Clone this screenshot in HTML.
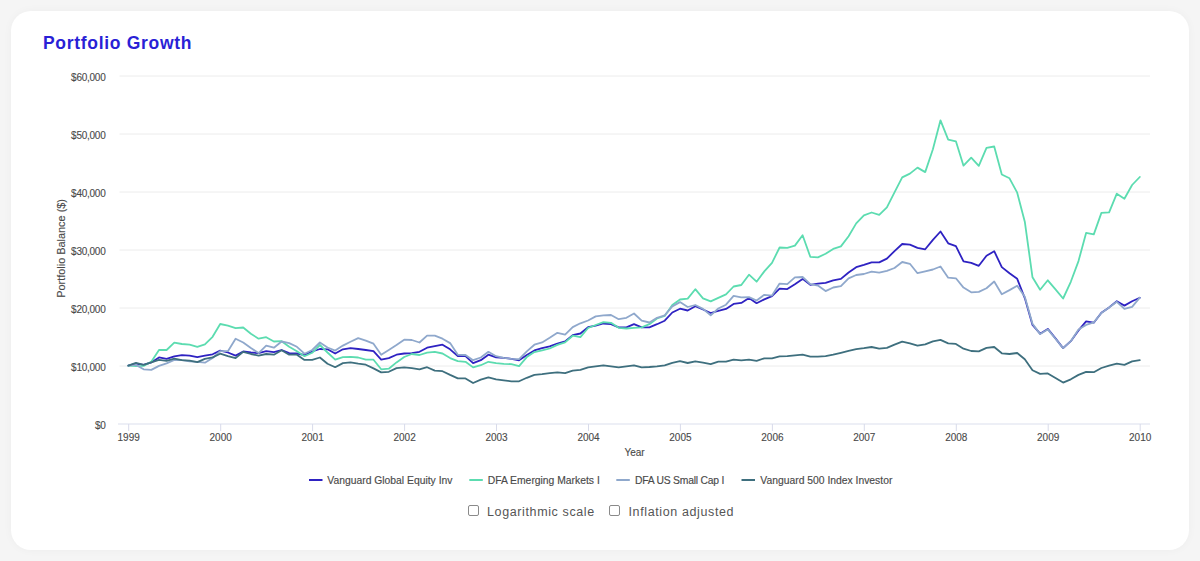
<!DOCTYPE html>
<html><head><meta charset="utf-8"><title>Portfolio Growth</title>
<style>
html,body{margin:0;padding:0;}
body{width:1200px;height:561px;background:#f5f5f5;position:relative;overflow:hidden;font-family:"Liberation Sans",Arial,sans-serif;}
.card{position:absolute;left:11px;top:11px;width:1178px;height:539px;background:#fff;border-radius:20px;box-shadow:0 0 10px rgba(0,0,0,0.035);}
h1{position:absolute;left:43px;top:33px;margin:0;font-size:17.5px;line-height:20px;font-weight:bold;color:#2a1fd6;letter-spacing:0.7px;white-space:nowrap;}
svg{position:absolute;left:0;top:0;}
.ax text{font-family:"Liberation Sans",Arial,sans-serif;font-size:10px;fill:#4a4a4a;stroke:#4a4a4a;stroke-width:0.12px;}
.yl{letter-spacing:-0.25px;}
.lg text{font-family:"Liberation Sans",Arial,sans-serif;font-size:10.35px;fill:#4a4a4a;stroke:#4a4a4a;stroke-width:0.15px;}
.opts{position:absolute;top:502px;left:0;width:1200px;height:18px;font-size:12.5px;color:#555;}
.cb{position:absolute;top:2.5px;width:9px;height:9px;border:1px solid #8a8a8a;border-radius:2px;background:#fff;}
.opts span{position:absolute;top:3px;white-space:nowrap;letter-spacing:0.62px;}
</style></head><body>
<div class="card"></div>
<h1>Portfolio Growth</h1>
<svg width="1200" height="561" viewBox="0 0 1200 561">
<g class="ax">
<line x1="119.5" y1="366.0" x2="1150" y2="366.0" stroke="#ececec" stroke-width="1"/>
<line x1="119.5" y1="308.0" x2="1150" y2="308.0" stroke="#ececec" stroke-width="1"/>
<line x1="119.5" y1="250.0" x2="1150" y2="250.0" stroke="#ececec" stroke-width="1"/>
<line x1="119.5" y1="192.0" x2="1150" y2="192.0" stroke="#ececec" stroke-width="1"/>
<line x1="119.5" y1="134.0" x2="1150" y2="134.0" stroke="#ececec" stroke-width="1"/>
<line x1="119.5" y1="76.0" x2="1150" y2="76.0" stroke="#ececec" stroke-width="1"/>

<line x1="118" y1="424" x2="1150" y2="424" stroke="#dcdfee" stroke-width="1.2"/>
<line x1="128.7" y1="424" x2="128.7" y2="431" stroke="#d8dbea" stroke-width="1"/>
<text x="128.7" y="440.5" text-anchor="middle">1999</text>
<line x1="220.7" y1="424" x2="220.7" y2="431" stroke="#d8dbea" stroke-width="1"/>
<text x="220.7" y="440.5" text-anchor="middle">2000</text>
<line x1="312.6" y1="424" x2="312.6" y2="431" stroke="#d8dbea" stroke-width="1"/>
<text x="312.6" y="440.5" text-anchor="middle">2001</text>
<line x1="404.6" y1="424" x2="404.6" y2="431" stroke="#d8dbea" stroke-width="1"/>
<text x="404.6" y="440.5" text-anchor="middle">2002</text>
<line x1="496.5" y1="424" x2="496.5" y2="431" stroke="#d8dbea" stroke-width="1"/>
<text x="496.5" y="440.5" text-anchor="middle">2003</text>
<line x1="588.5" y1="424" x2="588.5" y2="431" stroke="#d8dbea" stroke-width="1"/>
<text x="588.5" y="440.5" text-anchor="middle">2004</text>
<line x1="680.4" y1="424" x2="680.4" y2="431" stroke="#d8dbea" stroke-width="1"/>
<text x="680.4" y="440.5" text-anchor="middle">2005</text>
<line x1="772.4" y1="424" x2="772.4" y2="431" stroke="#d8dbea" stroke-width="1"/>
<text x="772.4" y="440.5" text-anchor="middle">2006</text>
<line x1="864.3" y1="424" x2="864.3" y2="431" stroke="#d8dbea" stroke-width="1"/>
<text x="864.3" y="440.5" text-anchor="middle">2007</text>
<line x1="956.3" y1="424" x2="956.3" y2="431" stroke="#d8dbea" stroke-width="1"/>
<text x="956.3" y="440.5" text-anchor="middle">2008</text>
<line x1="1048.2" y1="424" x2="1048.2" y2="431" stroke="#d8dbea" stroke-width="1"/>
<text x="1048.2" y="440.5" text-anchor="middle">2009</text>
<line x1="1140.2" y1="424" x2="1140.2" y2="431" stroke="#d8dbea" stroke-width="1"/>
<text x="1140.2" y="440.5" text-anchor="middle">2010</text>

<text class="yl" x="105.5" y="428.6" text-anchor="end">$0</text>
<text class="yl" x="105.5" y="370.6" text-anchor="end">$10,000</text>
<text class="yl" x="105.5" y="312.6" text-anchor="end">$20,000</text>
<text class="yl" x="105.5" y="254.6" text-anchor="end">$30,000</text>
<text class="yl" x="105.5" y="196.6" text-anchor="end">$40,000</text>
<text class="yl" x="105.5" y="138.6" text-anchor="end">$50,000</text>
<text class="yl" x="105.5" y="80.6" text-anchor="end">$60,000</text>

<text x="634.5" y="456" text-anchor="middle">Year</text>
<text transform="translate(65.2,248.4) rotate(-90)" text-anchor="middle" style="font-size:10.9px">Portfolio Balance ($)</text>
</g>
<g class="lines">
<path d="M128.3,365.6 L136.0,363.7 L143.6,364.9 L151.3,362.4 L159.0,357.4 L166.6,358.9 L174.3,356.4 L181.9,355.2 L189.6,355.6 L197.3,357.2 L204.9,355.6 L212.6,354.3 L220.2,350.6 L227.9,352.5 L235.6,355.6 L243.2,351.5 L250.9,352.5 L258.6,353.1 L266.2,351.2 L273.9,352.2 L281.6,350.0 L289.2,353.1 L296.9,353.5 L304.5,355.0 L312.2,351.5 L319.9,349.0 L327.5,349.3 L335.2,353.5 L342.9,349.3 L350.5,348.1 L358.2,349.0 L365.8,350.0 L373.5,351.2 L381.2,359.7 L388.8,358.1 L396.5,354.7 L404.2,353.5 L411.8,353.1 L419.5,351.8 L427.1,347.7 L434.8,346.2 L442.5,344.7 L450.1,349.3 L457.8,356.2 L465.5,356.2 L473.1,363.1 L480.8,360.2 L488.4,354.7 L496.1,357.3 L503.8,357.8 L511.4,358.9 L519.1,360.3 L526.8,354.9 L534.4,350.4 L542.1,348.1 L549.7,346.4 L557.4,343.5 L565.1,341.4 L572.7,335.2 L580.4,333.5 L588.1,327.1 L595.7,325.7 L603.4,323.5 L611.0,324.2 L618.7,327.4 L626.4,327.4 L634.0,324.2 L641.7,327.4 L649.4,327.4 L657.0,324.2 L664.7,320.7 L672.3,312.5 L680.0,308.7 L687.7,310.5 L695.3,306.2 L703.0,309.5 L710.7,313.0 L718.3,310.8 L726.0,308.9 L733.6,303.9 L741.3,302.9 L749.0,297.9 L756.6,303.2 L764.3,299.4 L772.0,296.1 L779.6,288.7 L787.3,289.1 L794.9,284.2 L802.6,278.9 L810.3,284.8 L817.9,283.6 L825.6,282.8 L833.2,280.3 L840.9,278.9 L848.6,272.5 L856.2,267.2 L863.9,264.9 L871.6,262.4 L879.2,262.4 L886.9,258.6 L894.5,251.1 L902.2,244.0 L909.9,244.6 L917.5,247.8 L925.2,249.3 L932.9,239.9 L940.5,231.5 L948.2,243.3 L955.9,246.2 L963.5,261.4 L971.2,262.8 L978.8,265.8 L986.5,255.8 L994.2,251.2 L1001.8,267.1 L1009.5,273.2 L1017.2,278.8 L1024.8,298.1 L1032.5,324.9 L1040.1,333.7 L1047.8,328.9 L1055.5,338.4 L1063.1,348.1 L1070.8,341.2 L1078.5,330.4 L1086.1,321.4 L1093.8,322.7 L1101.4,312.7 L1109.1,307.4 L1116.8,301.2 L1124.4,305.6 L1132.1,301.2 L1139.8,297.7" fill="none" stroke="#2e22c2" stroke-width="1.8" stroke-linejoin="round" stroke-linecap="round"/>
<path d="M128.3,365.6 L136.0,366.2 L143.6,365.9 L151.3,361.8 L159.0,350.0 L166.6,350.0 L174.3,342.7 L181.9,344.0 L189.6,344.7 L197.3,346.8 L204.9,344.3 L212.6,336.8 L220.2,324.0 L227.9,325.6 L235.6,328.1 L243.2,327.5 L250.9,333.7 L258.6,338.7 L266.2,337.2 L273.9,341.5 L281.6,341.2 L289.2,346.8 L296.9,351.2 L304.5,356.2 L312.2,352.8 L319.9,345.0 L327.5,352.5 L335.2,359.7 L342.9,357.2 L350.5,356.8 L358.2,357.5 L365.8,359.7 L373.5,359.7 L381.2,369.3 L388.8,368.7 L396.5,362.4 L404.2,357.0 L411.8,354.0 L419.5,355.0 L427.1,352.7 L434.8,351.8 L442.5,353.5 L450.1,358.1 L457.8,361.2 L465.5,361.8 L473.1,367.4 L480.8,365.2 L488.4,361.8 L496.1,363.2 L503.8,363.8 L511.4,364.2 L519.1,366.1 L526.8,357.1 L534.4,352.1 L542.1,350.4 L549.7,348.5 L557.4,344.9 L565.1,342.4 L572.7,335.7 L580.4,337.1 L588.1,328.0 L595.7,325.0 L603.4,322.1 L611.0,322.8 L618.7,327.8 L626.4,328.5 L634.0,327.8 L641.7,327.4 L649.4,324.2 L657.0,318.5 L664.7,316.0 L672.3,305.0 L680.0,299.5 L687.7,298.6 L695.3,289.2 L703.0,298.3 L710.7,301.4 L718.3,297.9 L726.0,294.4 L733.6,286.5 L741.3,285.0 L749.0,274.7 L756.6,281.7 L764.3,271.4 L772.0,262.8 L779.6,247.5 L787.3,247.9 L794.9,245.6 L802.6,235.2 L810.3,256.8 L817.9,257.4 L825.6,253.8 L833.2,248.9 L840.9,246.4 L848.6,236.2 L856.2,223.4 L863.9,215.3 L871.6,212.5 L879.2,214.8 L886.9,207.3 L894.5,192.3 L902.2,177.4 L909.9,173.6 L917.5,167.6 L925.2,172.1 L932.9,149.3 L940.5,120.3 L948.2,139.6 L955.9,141.3 L963.5,165.7 L971.2,157.7 L978.8,165.9 L986.5,147.8 L994.2,146.5 L1001.8,174.5 L1009.5,178.3 L1017.2,192.7 L1024.8,221.7 L1032.5,277.3 L1040.1,289.8 L1047.8,280.3 L1055.5,289.3 L1063.1,298.5 L1070.8,281.8 L1078.5,261.1 L1086.1,232.9 L1093.8,234.4 L1101.4,212.9 L1109.1,212.4 L1116.8,193.7 L1124.4,198.7 L1132.1,185.0 L1139.8,177.0" fill="none" stroke="#5cdcb0" stroke-width="1.8" stroke-linejoin="round" stroke-linecap="round"/>
<path d="M128.3,365.6 L136.0,364.9 L143.6,369.3 L151.3,369.9 L159.0,365.9 L166.6,363.4 L174.3,359.9 L181.9,360.2 L189.6,361.4 L197.3,361.8 L204.9,362.7 L212.6,358.1 L220.2,351.2 L227.9,351.2 L235.6,338.7 L243.2,342.5 L250.9,348.1 L258.6,353.1 L266.2,345.6 L273.9,347.7 L281.6,341.5 L289.2,343.1 L296.9,346.8 L304.5,353.7 L312.2,350.0 L319.9,342.5 L327.5,347.5 L335.2,350.6 L342.9,345.6 L350.5,341.8 L358.2,338.1 L365.8,340.6 L373.5,343.7 L381.2,354.7 L388.8,350.0 L396.5,345.0 L404.2,339.7 L411.8,340.0 L419.5,342.5 L427.1,335.6 L434.8,335.6 L442.5,338.7 L450.1,343.1 L457.8,354.7 L465.5,355.0 L473.1,360.2 L480.8,357.5 L488.4,351.8 L496.1,356.2 L503.8,357.8 L511.4,358.9 L519.1,359.2 L526.8,351.4 L534.4,344.7 L542.1,342.4 L549.7,337.8 L557.4,332.8 L565.1,334.7 L572.7,327.1 L580.4,323.3 L588.1,320.5 L595.7,316.4 L603.4,315.4 L611.0,315.0 L618.7,319.2 L626.4,317.8 L634.0,313.5 L641.7,320.7 L649.4,322.5 L657.0,317.8 L664.7,315.4 L672.3,306.4 L680.0,302.1 L687.7,307.0 L695.3,305.0 L703.0,308.9 L710.7,315.3 L718.3,308.5 L726.0,304.7 L733.6,295.9 L741.3,297.4 L749.0,297.1 L756.6,300.5 L764.3,294.8 L772.0,295.6 L779.6,283.6 L787.3,284.2 L794.9,277.4 L802.6,277.0 L810.3,284.2 L817.9,285.6 L825.6,291.1 L833.2,287.5 L840.9,286.2 L848.6,278.3 L856.2,275.0 L863.9,274.0 L871.6,271.7 L879.2,272.6 L886.9,270.8 L894.5,268.0 L902.2,262.0 L909.9,263.8 L917.5,273.2 L925.2,271.3 L932.9,269.5 L940.5,266.5 L948.2,277.7 L955.9,278.3 L963.5,287.6 L971.2,292.3 L978.8,291.9 L986.5,288.2 L994.2,281.5 L1001.8,294.2 L1009.5,290.1 L1017.2,285.7 L1024.8,296.8 L1032.5,323.7 L1040.1,334.1 L1047.8,329.4 L1055.5,338.7 L1063.1,348.1 L1070.8,341.2 L1078.5,329.6 L1086.1,324.9 L1093.8,322.4 L1101.4,313.0 L1109.1,307.4 L1116.8,301.8 L1124.4,308.9 L1132.1,306.8 L1139.8,297.7" fill="none" stroke="#8fa8cc" stroke-width="1.8" stroke-linejoin="round" stroke-linecap="round"/>
<path d="M128.3,365.6 L136.0,362.8 L143.6,364.9 L151.3,362.4 L159.0,359.9 L166.6,360.9 L174.3,358.7 L181.9,360.2 L189.6,360.6 L197.3,362.2 L204.9,358.9 L212.6,357.4 L220.2,353.7 L227.9,356.2 L235.6,358.1 L243.2,351.8 L250.9,354.0 L258.6,355.6 L266.2,354.0 L273.9,354.7 L281.6,350.2 L289.2,354.7 L296.9,354.7 L304.5,359.9 L312.2,359.8 L319.9,357.5 L327.5,363.7 L335.2,367.2 L342.9,363.1 L350.5,362.4 L358.2,363.7 L365.8,364.7 L373.5,368.4 L381.2,372.4 L388.8,371.8 L396.5,368.1 L404.2,367.4 L411.8,368.1 L419.5,369.3 L427.1,367.2 L434.8,370.6 L442.5,371.2 L450.1,374.9 L457.8,378.4 L465.5,378.4 L473.1,383.0 L480.8,379.7 L488.4,377.4 L496.1,379.3 L503.8,380.3 L511.4,381.3 L519.1,381.3 L526.8,377.8 L534.4,374.9 L542.1,374.2 L549.7,373.2 L557.4,372.3 L565.1,373.2 L572.7,370.6 L580.4,369.9 L588.1,367.4 L595.7,366.3 L603.4,365.3 L611.0,366.3 L618.7,367.3 L626.4,366.3 L634.0,365.3 L641.7,367.3 L649.4,367.0 L657.0,366.3 L664.7,365.3 L672.3,362.8 L680.0,361.2 L687.7,363.0 L695.3,361.3 L703.0,362.7 L710.7,364.2 L718.3,361.7 L726.0,361.7 L733.6,359.7 L741.3,360.3 L749.0,359.7 L756.6,360.8 L764.3,358.3 L772.0,358.3 L779.6,356.3 L787.3,356.2 L794.9,355.3 L802.6,354.7 L810.3,356.7 L817.9,356.7 L825.6,356.2 L833.2,354.7 L840.9,352.8 L848.6,350.8 L856.2,349.2 L863.9,348.2 L871.6,347.0 L879.2,348.7 L886.9,347.9 L894.5,344.7 L902.2,341.7 L909.9,343.4 L917.5,345.7 L925.2,344.3 L932.9,341.3 L940.5,339.9 L948.2,343.4 L955.9,343.9 L963.5,348.7 L971.2,351.0 L978.8,351.4 L986.5,347.9 L994.2,347.0 L1001.8,353.3 L1009.5,354.0 L1017.2,353.0 L1024.8,359.3 L1032.5,370.2 L1040.1,373.9 L1047.8,373.4 L1055.5,378.0 L1063.1,382.6 L1070.8,379.3 L1078.5,374.9 L1086.1,371.8 L1093.8,372.2 L1101.4,368.0 L1109.1,365.6 L1116.8,363.7 L1124.4,364.9 L1132.1,361.4 L1139.8,360.2" fill="none" stroke="#3e6f7e" stroke-width="1.8" stroke-linejoin="round" stroke-linecap="round"/>

</g>
<g class="lg">
<line x1="309" y1="480" x2="322.5" y2="480" stroke="#2e22c2" stroke-width="2"/>
<text x="327.3" y="483.7">Vanguard Global Equity Inv</text>
<line x1="469.3" y1="480" x2="482.8" y2="480" stroke="#5cdcb0" stroke-width="2"/>
<text x="487.7" y="483.7">DFA Emerging Markets I</text>
<line x1="616.3" y1="480" x2="629.8" y2="480" stroke="#8fa8cc" stroke-width="2"/>
<text x="635" y="483.7" letter-spacing="-0.22">DFA US Small Cap I</text>
<line x1="741.5" y1="480" x2="755.0" y2="480" stroke="#3e6f7e" stroke-width="2"/>
<text x="760.3" y="483.7">Vanguard 500 Index Investor</text>

</g>
</svg>
<div class="opts">
<div class="cb" style="left:467.5px"></div><span style="left:487px">Logarithmic scale</span>
<div class="cb" style="left:609px"></div><span style="left:628.5px">Inflation adjusted</span>
</div>
</body></html>
